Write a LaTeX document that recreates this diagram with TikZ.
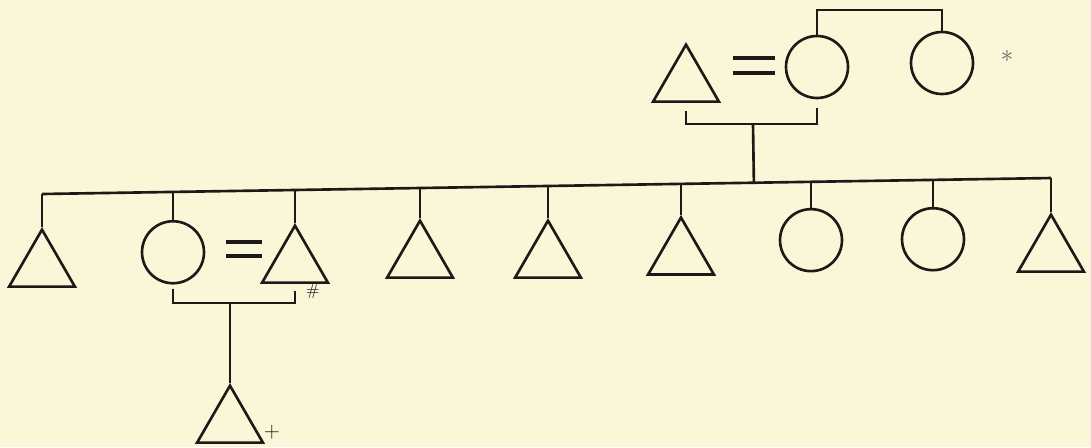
\documentclass[tikz,border=0pt]{standalone}
\usepackage{tikz}
\usetikzlibrary{calc,shapes.geometric}
\definecolor{paper}{RGB}{250,246,216}
\definecolor{ink}{RGB}{28,26,22}
\tikzset{
 kin line/.style={line width=1.5pt,draw=ink},
 kin male/.style={regular polygon,regular polygon sides=3,draw=ink,line width=1.5pt,
                  minimum size=1.52cm,inner sep=0pt,anchor=north},
 kin female/.style={circle,draw=ink,line width=1.5pt,minimum size=1.24cm,inner sep=0pt},
 kin mark/.style={text=ink,inner sep=1pt}
}

\begin{document}
\begin{tikzpicture}[x=0.02cm,y=-0.02cm]
 \fill[paper] (0,0) rectangle (1091,447);
 \useasboundingbox (0,0) rectangle (1091,447);

 % parents and the mother's sister
 \node[kin male] (fa) at (686,42) {};
 \node[kin female] (mo) at (817,67) {};
 \node[kin female] (ms) at (942,63) {};
 \node[kin mark,font=\Large,text=ink!70] (ast) at (1007,60) {*};
 \coordinate (eqp) at (754,65.5);
 \draw[kin line,line width=2pt] ($(eqp)+(-21,-7.5)$) -- ($(eqp)+(21,-7.5)$);
 \draw[kin line,line width=2pt] ($(eqp)+(-21,7.5)$) -- ($(eqp)+(21,7.5)$);
 \coordinate (sis) at (880,10);
 \draw[kin line] (mo.north) |- (sis) -| (ms.north);
 \coordinate (pc) at (753,124);
 \draw[kin line] ($(fa.south)+(0,8)$) |- (pc) -| ($(mo.south)+(0,9)$);

 % children
 \foreach \x/\kind/\gap/\n in {42/male/33/c1,173/female/28/c2,295/male/33/c3,
     420/male/30/c4,548/male/32/c5,681/male/31/c6,811/female/26/c7,
     933/female/27/c8,1051/male/34/c9}{
   \pgfmathsetmacro\ly{194-16*(\x-42)/1010}
   \coordinate (s\n) at (\x,\ly);
   \node[kin \kind,anchor=north] (\n) at (\x,\ly+\gap) {};
   \draw[kin line] (s\n) -- (\n.north);
 }
 \draw[kin line] (sc1) -- (sc9);
 \draw[kin line] (pc) -- ($(sc1)!(pc)!(sc9)$);

 % second marriage and grandchild
 \coordinate (eqc) at (244,249);
 \draw[kin line,line width=2pt] ($(eqc)+(-18,-7)$) -- ($(eqc)+(18,-7)$);
 \draw[kin line,line width=2pt] ($(eqc)+(-18,7)$) -- ($(eqc)+(18,7)$);
 \coordinate (gc) at (230,303);
 \draw[kin line] ($(c2.south)+(0,4)$) |- (gc) -| ($(c3.south)+(0,7)$);
 \node[kin male] (g1) at (230,383) {};
 \draw[kin line] (gc) -- (g1.north);
 \node[kin mark,font=\small] (hash) at (313,292) {\#};
 \node[kin mark,font=\large] (plus) at (272,432) {+};
\end{tikzpicture}
\end{document}
